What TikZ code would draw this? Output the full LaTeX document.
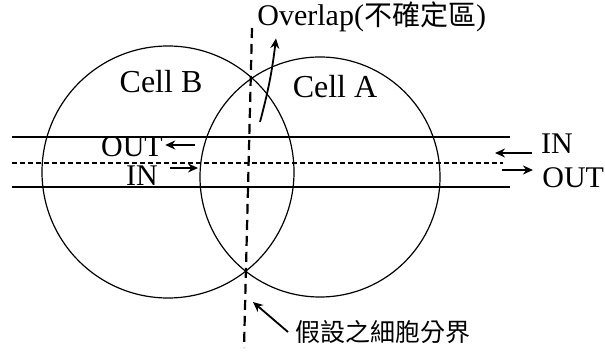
\documentclass[tikz,border=0pt]{standalone}
\usepackage{fontspec}
\setmainfont{Liberation Serif}
\newfontfamily\cjkfont{Noto Sans CJK TC}
\usetikzlibrary{arrows.meta}
\tikzstyle{cell} = [
    circle,
    draw=black,
    line width=0.6pt,
    minimum size=250pt,
    inner sep=0pt
]
\tikzstyle{membrane} = [
    draw=black,
    line width=0.6pt
]
\tikzstyle{channel} = [
    draw=black,
    line width=0.6pt,
    dash pattern=on 2.5pt off 1.5pt
]
\tikzstyle{boundary} = [
    draw=black,
    line width=1.1pt,
    dash pattern=on 5pt off 3pt
]
\tikzstyle{txt} = [
    inner sep=0pt,
    font=\fontsize{15}{17}\selectfont
]
\tikzstyle{arrow} = [line width=0.9pt,->,>={Stealth[length=5pt, width=4.5pt]}]

\begin{document}
\begin{tikzpicture}[x=0.5pt, y=-0.5pt]
\useasboundingbox (0,0) rectangle (605,352);

% the two cells
\node (cellB) [cell, minimum size=126pt] at (168,172) {};
\node (cellA) [cell, minimum size=120pt] at (320,177) {};

\node (nameB) [txt, font=\fontsize{16}{18}\selectfont] at (161,82) {Cell B};
\node (nameA) [txt, font=\fontsize{16}{18}\selectfont] at (335,87) {Cell A};

% membrane and channel lines
\draw [membrane] (12,137) -- (510,137);
\draw [channel] (12,163) -- (503,163);
\draw [membrane] (12,187) -- (510,187);

% assumed boundary
\draw [boundary] (252,28) -- (244,348);

\node (overlap) [txt, anchor=west] at (257,17)
{Overlap({\cjkfont\fontsize{14}{16}\selectfont 不確定區})};

\node (bound) [txt, anchor=west] at (295,332)
{\cjkfont\fontsize{12.5}{14}\selectfont 假設之細胞分界};

\node (outL) [txt] at (132,147) {OUT};
\node (inL) [txt] at (142,176) {IN};
\node (inR) [txt] at (557,144) {IN};
\node (outR) [txt, anchor=west] at (542,178) {OUT};

\coordinate (ovtail) at (260,122);
\coordinate (cross) at (253,302);
\coordinate (outLtail) at (195,145);
\coordinate (inLhead) at (198,168);
\coordinate (inRhead) at (495,153);
\coordinate (outRtail) at (502,170);

\draw [arrow] (ovtail) to[bend right=4] ([xshift=9.5pt, yshift=-3pt]overlap.south west);
\draw [arrow] ([xshift=-3.5pt]bound.west) -- (cross);

\draw [arrow] (outLtail) -- ([xshift=1pt, yshift=1pt]outL.east);
\draw [arrow] ([xshift=6pt, yshift=4pt]inL.east) -- (inLhead);
\draw [arrow] ([xshift=-4.5pt, yshift=-4.5pt]inR.west) -- (inRhead);
\draw [arrow] (outRtail) -- ([xshift=-4.5pt, yshift=4pt]outR.west);

\end{tikzpicture}
\end{document}
